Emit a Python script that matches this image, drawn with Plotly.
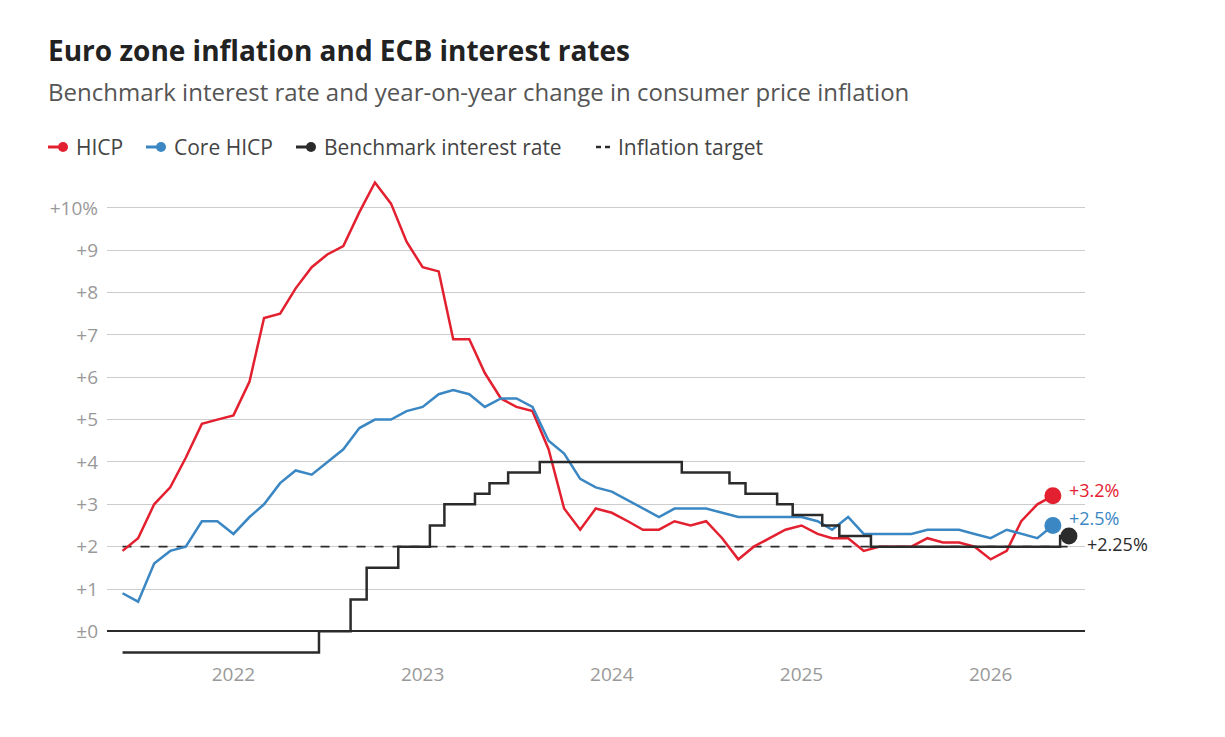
import pandas as pd
import plotly.graph_objects as go

# monthly inflation, Jun 2021 - May 2026
months = pd.date_range('2021-06-01', '2026-05-01', freq='MS')
hicp = [1.9, 2.2, 3.0, 3.4, 4.1, 4.9, 5.0,
        5.1, 5.9, 7.4, 7.5, 8.1, 8.6, 8.9, 9.1, 9.9, 10.6, 10.1, 9.2,
        8.6, 8.5, 6.9, 6.9, 6.1, 5.5, 5.3, 5.2, 4.3, 2.9, 2.4, 2.9,
        2.8, 2.6, 2.4, 2.4, 2.6, 2.5, 2.6, 2.2, 1.7, 2.0, 2.2, 2.4,
        2.5, 2.3, 2.2, 2.2, 1.9, 2.0, 2.0, 2.0, 2.2, 2.1, 2.1, 2.0,
        1.7, 1.9, 2.6, 3.0, 3.2]
core = [0.9, 0.7, 1.6, 1.9, 2.0, 2.6, 2.6,
        2.3, 2.7, 3.0, 3.5, 3.8, 3.7, 4.0, 4.3, 4.8, 5.0, 5.0, 5.2,
        5.3, 5.6, 5.7, 5.6, 5.3, 5.5, 5.5, 5.3, 4.5, 4.2, 3.6, 3.4,
        3.3, 3.1, 2.9, 2.7, 2.9, 2.9, 2.9, 2.8, 2.7, 2.7, 2.7, 2.7,
        2.7, 2.6, 2.4, 2.7, 2.3, 2.3, 2.3, 2.3, 2.4, 2.4, 2.4, 2.3,
        2.2, 2.4, 2.3, 2.2, 2.5]

# benchmark rate steps
rate_dates = ['2021-06-01', '2022-06-15', '2022-08-15', '2022-09-15',
              '2022-11-15', '2023-01-15', '2023-02-12', '2023-04-12',
              '2023-05-10', '2023-06-15', '2023-08-15', '2024-05-15',
              '2024-08-15', '2024-09-15', '2024-11-15', '2024-12-15',
              '2025-02-10', '2025-03-15', '2025-05-15', '2026-05-15',
              '2026-06-01']
rate = [-0.5, 0, 0.75, 1.5, 2.0, 2.5, 3.0, 3.25, 3.5, 3.75, 4.0, 3.75,
        3.5, 3.25, 3.0, 2.75, 2.5, 2.25, 2.0, 2.25, 2.25]

target_dates = ['2021-06-01', '2026-06-01']
target = [2, 2]

y_ticks = list(range(0, 11))
y_text = ['±0'] + ['+%d' % v for v in range(1, 10)] + ['+10%']

RED = '#e3202f'
BLUE = '#3a87c3'
BLACK = '#2b2b2b'
FONT = 'Open Sans, sans-serif'

fig = go.Figure()
fig.add_trace(go.Scatter(x=target_dates, y=target, mode='lines',
                         name='Inflation target',
                         line=dict(color=BLACK, width=1.8, dash='dash')))
fig.add_trace(go.Scatter(x=months, y=hicp, mode='lines', name='HICP',
                         line=dict(color=RED, width=2.5)))
fig.add_trace(go.Scatter(x=months, y=core, mode='lines', name='Core HICP',
                         line=dict(color=BLUE, width=2.5)))
fig.add_trace(go.Scatter(x=rate_dates, y=rate, mode='lines',
                         name='Benchmark interest rate', line_shape='hv',
                         line=dict(color=BLACK, width=2.5)))

# end dots and labels
ends = [(months[-1], hicp[-1], RED, '+3.2%', 6, 14),
        (months[-1], core[-1], BLUE, '+2.5%', 7, 14),
        (rate_dates[-1], rate[-1], BLACK, '+2.25%', -8, 16)]
for x, y, c, t, dy, dx in ends:
    fig.add_trace(go.Scatter(x=[x], y=[y], mode='markers', showlegend=False,
                             marker=dict(color=c, size=17)))
    fig.add_annotation(x=x, y=y, text=t, showarrow=False, xanchor='left',
                       xshift=dx, yshift=dy,
                       font=dict(color=c, size=18))

fig.update_layout(
    width=1225, height=737,
    paper_bgcolor='white', plot_bgcolor='white',
    font=dict(family=FONT, color='#444'),
    margin=dict(l=99, r=148, t=166, b=84),
    showlegend=False,
    hovermode=False,
)
fig.update_xaxes(range=['2021-05-02', '2026-07-02'], showgrid=False,
                 tickvals=['2022-01-01', '2023-01-01', '2024-01-01',
                           '2025-01-01', '2026-01-01'],
                 ticktext=['2022', '2023', '2024', '2025', '2026'],
                 ticks='', tickfont=dict(size=19, color='#999'),
                 showline=False, zeroline=False)
fig.update_yaxes(range=[-0.7, 10.8], tickvals=y_ticks, ticktext=y_text,
                 gridcolor='#cccccc', gridwidth=1,
                 tickfont=dict(size=19, color='#999'), ticklabelstandoff=8,
                 zeroline=True, zerolinecolor=BLACK, zerolinewidth=2)


# pixel positions in the reference photo (page has an 8px body margin)
def px_x(p):
    return (p - 107) / 978


def px_y(p):
    return (661 - p) / 487


# titles
fig.add_annotation(xref='paper', yref='paper', x=px_x(46), y=px_y(50),
                   xanchor='left', yanchor='middle', showarrow=False,
                   text='<b>Euro zone inflation and ECB interest rates</b>',
                   font=dict(size=28, color='#222'))
fig.add_annotation(xref='paper', yref='paper', x=px_x(46), y=px_y(91),
                   xanchor='left', yanchor='middle', showarrow=False,
                   text='Benchmark interest rate and year-on-year change in consumer price inflation',
                   font=dict(size=24, color='#555'))

# legend drawn by hand
leg = [('HICP', RED, 'solid', 48), ('Core HICP', BLUE, 'solid', 146),
       ('Benchmark interest rate', BLACK, 'solid', 296),
       ('Inflation target', BLACK, 'dash', 596)]
ypx = 147
for name, c, d, x0 in leg:
    if d == 'dash':
        for sx in (x0, x0 + 9):
            fig.add_shape(type='line', xref='paper', yref='paper',
                          x0=px_x(sx), x1=px_x(sx + 5),
                          y0=px_y(ypx), y1=px_y(ypx),
                          line=dict(color=c, width=2.5))
        tx = x0 + 20
    else:
        fig.add_shape(type='line', xref='paper', yref='paper',
                      x0=px_x(x0), x1=px_x(x0 + 14), y0=px_y(ypx),
                      y1=px_y(ypx), line=dict(color=c, width=3))
        fig.add_shape(type='circle', xref='paper', yref='paper',
                      x0=px_x(x0 + 10), x1=px_x(x0 + 20),
                      y0=px_y(ypx + 5), y1=px_y(ypx - 5),
                      fillcolor=c, line=dict(width=0))
        tx = x0 + 26
    fig.add_annotation(xref='paper', yref='paper', x=px_x(tx),
                       y=px_y(ypx), xanchor='left', yanchor='middle',
                       showarrow=False, text=name,
                       font=dict(size=21, color='#444'))

fig.write_html('out.html')
